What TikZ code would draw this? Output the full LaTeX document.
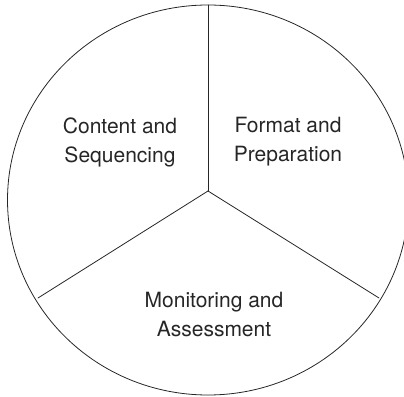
\documentclass[tikz,border=0pt]{standalone}
\usepackage{fontspec}
\setmainfont{TeX Gyre Heros}
\begin{document}
\begin{tikzpicture}[x=1pt,y=1pt,
  contorno/.style={draw=black!85,line width=0.8pt,line cap=round},
  etichetta/.style={font=\fontsize{21}{29}\selectfont,
    align=center,text=black!85,inner sep=0pt}]
  % Area del disegno: il bordo destro taglia il cerchio.
  \clip (0,0) rectangle (404,396);
  \draw[contorno] (208,196) ellipse (200.5 and 195);
  % Raggi dal centro comune verso il bordo.
  \coordinate (centro) at (208,205);
  \coordinate (cima) at (208,391);
  \coordinate (sinistra) at (38,98);
  \coordinate (destra) at (379,98);
  \foreach \estremo in {cima,sinistra,destra}{
    \draw[contorno] (centro) -- (\estremo);
  }
  % Testi dei tre settori.
  \node[etichetta] (contenuto) at (120,254) {Content and\\Sequencing};
  \node[etichetta] (formato) at (288,254) {Format and\\Preparation};
  \node[etichetta] (verifica) at (214,81.5) {Monitoring and\\Assessment};
\end{tikzpicture}
\end{document}
